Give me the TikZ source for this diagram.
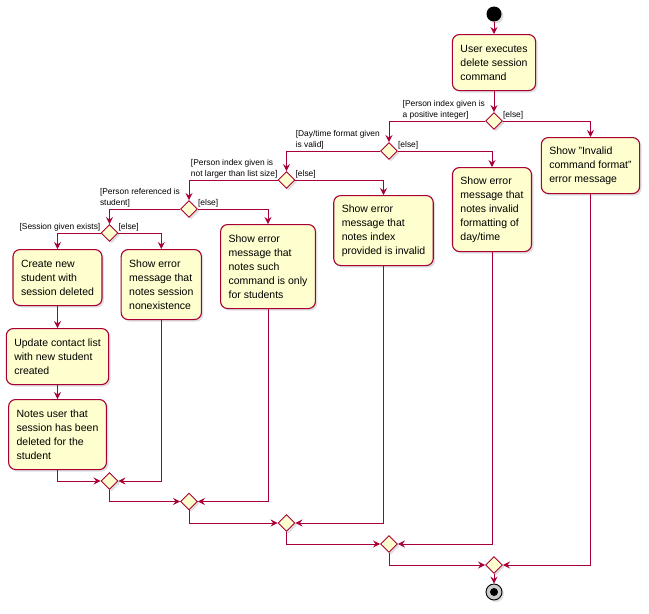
\documentclass[tikz,border=0pt]{standalone}
\usepackage{fontspec}
\setmainfont{Liberation Sans}
\usetikzlibrary{arrows.meta,shapes.geometric,shadows}
\definecolor{umlred}{HTML}{A80036}
\definecolor{umlfill}{HTML}{FEFECE}

\begin{document}
\begin{tikzpicture}[
  x=1pt, y=-1pt,
  action/.style={rectangle, rounded corners=7pt, draw=umlred, line width=1.1pt, fill=umlfill,
    align=left, inner xsep=8pt, inner ysep=0pt, anchor=north,
    font=\fontsize{10.5}{14}\selectfont,
    drop shadow={shadow xshift=2pt, shadow yshift=-2pt, opacity=0.25}},
  lines3/.style={minimum height=56pt},
  lines4/.style={minimum height=70pt},
  lines5/.style={minimum height=84pt},
  choice/.style={diamond, aspect=1, draw=umlred, line width=0.9pt, fill=umlfill,
    minimum width=17pt, minimum height=17pt, inner sep=0pt,
    drop shadow={shadow xshift=2pt, shadow yshift=-2pt, opacity=0.25}},
  guard/.style={font=\fontsize{8.4}{11}\selectfont, align=left, inner sep=0pt},
  startdot/.style={circle, fill=black, minimum size=15pt, inner sep=0pt,
    drop shadow={shadow xshift=2pt, shadow yshift=-2pt, opacity=0.25}},
  stopring/.style={circle, draw=black, line width=0.9pt, fill=gray!40, minimum size=16pt, inner sep=0pt,
    drop shadow={shadow xshift=2pt, shadow yshift=-2pt, opacity=0.25}},
  stopcore/.style={circle, fill=black, minimum size=8pt, inner sep=0pt},
  flow/.style={draw=umlred, line width=0.9pt, -{Stealth[length=7pt, width=7pt, inset=2.5pt]}},
]
  \useasboundingbox (0,0) rectangle (649,614);

  \node[startdot] (start) at (494,14) {};
  \node[action, lines3] (act0) at (494,34) {User executes\\delete session\\command};

  \node[choice] (d1) at (494,121) {};
  \node[choice] (d2) at (389,151) {};
  \node[choice] (d3) at (286.5,180) {};
  \node[choice] (d4) at (189,209) {};
  \node[choice] (d5) at (109.5,233) {};

  \node[guard, anchor=south east] (g1) at ([yshift=1.5pt]d1.west) {[Person index given is\\a positive integer]};
  \node[guard, anchor=south west] (e1) at ([yshift=1.5pt]d1.east) {[else]};
  \node[guard, anchor=south east] (g2) at ([yshift=1.5pt]d2.west) {[Day/time format given\\is valid]};
  \node[guard, anchor=south west] (e2) at ([yshift=1.5pt]d2.east) {[else]};
  \node[guard, anchor=south east] (g3) at ([yshift=1.5pt]d3.west) {[Person index given is\\not larger than list size]};
  \node[guard, anchor=south west] (e3) at ([yshift=1.5pt]d3.east) {[else]};
  \node[guard, anchor=south east] (g4) at ([yshift=1.5pt]d4.west) {[Person referenced is\\student]};
  \node[guard, anchor=south west] (e4) at ([yshift=1.5pt]d4.east) {[else]};
  \node[guard, anchor=south east] (g5) at ([yshift=1.5pt]d5.west) {[Session given exists]};
  \node[guard, anchor=south west] (e5) at ([yshift=1.5pt]d5.east) {[else]};

  \node[action, lines3] (err1) at (590.5,137) {Show "Invalid\\command format"\\error message};
  \node[action, lines5] (err2) at (492,167) {Show error\\message that\\notes invalid\\formatting of\\day/time};
  \node[action, lines4] (err3) at (383.5,195) {Show error\\message that\\notes index\\provided is invalid};
  \node[action, lines5] (err4) at (268,224) {Show error\\message that\\notes such\\command is only\\for students};
  \node[action, lines4] (err5) at (161.3,249) {Show error\\message that\\notes session\\nonexistence};
  \node[action, lines3] (act1) at (57.5,249) {Create new\\student with\\session deleted};
  \node[action, lines3] (act2) at (57.5,328) {Update contact list\\with new student\\created};
  \node[action, lines4] (act3) at (57.5,399) {Notes user that\\session has been\\deleted for the\\student};

  \node[choice] (m1) at (109.5,481) {};
  \node[choice] (m2) at (189,501.5) {};
  \node[choice] (m3) at (286.5,523) {};
  \node[choice] (m4) at (389,544) {};
  \node[choice] (m5) at (494,565) {};

  \node[stopring] (stop) at (494,592) {};
  \node[stopcore] (stopcore) at (stop) {};

  \draw[flow] (start) -- (act0);
  \draw[flow] (act0) -- (d1);
  \draw[flow] (d1.west) -| (d2.north);
  \draw[flow] (d1.east) -| (err1.north);
  \draw[flow] (d2.west) -| (d3.north);
  \draw[flow] (d2.east) -| (err2.north);
  \draw[flow] (d3.west) -| (d4.north);
  \draw[flow] (d3.east) -| (err3.north);
  \draw[flow] (d4.west) -| (d5.north);
  \draw[flow] (d4.east) -| (err4.north);
  \draw[flow] (d5.west) -| (act1.north);
  \draw[flow] (d5.east) -| (err5.north);
  \draw[flow] (act1) -- (act2);
  \draw[flow] (act2) -- (act3);

  \draw[flow] (act3.south) |- (m1.west);
  \draw[flow] (err5.south) |- (m1.east);
  \draw[flow] (m1.south) |- (m2.west);
  \draw[flow] (err4.south) |- (m2.east);
  \draw[flow] (m2.south) |- (m3.west);
  \draw[flow] (err3.south) |- (m3.east);
  \draw[flow] (m3.south) |- (m4.west);
  \draw[flow] (err2.south) |- (m4.east);
  \draw[flow] (m4.south) |- (m5.west);
  \draw[flow] (err1.south) |- (m5.east);
  \draw[flow] (m5) -- (stop);
\end{tikzpicture}
\end{document}
